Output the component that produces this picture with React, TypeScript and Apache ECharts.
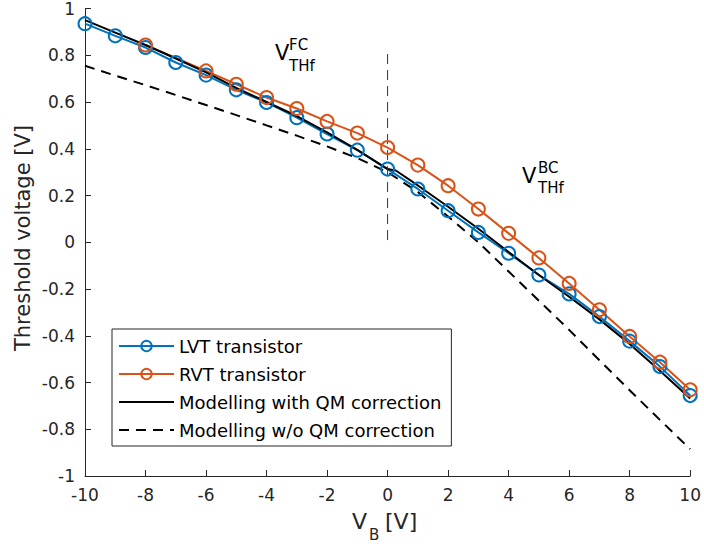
import React, { useEffect, useRef } from "react";
import * as echarts from "echarts";

const xs = [-10, -9, -8, -7, -6, -5, -4, -3, -2, -1, 0, 1, 2, 3, 4, 5, 6, 7, 8, 9, 10];
const lvt = [0.935, 0.883, 0.833, 0.769, 0.715, 0.652, 0.598, 0.533, 0.463, 0.394, 0.313, 0.228, 0.135, 0.042, -0.047, -0.14, -0.221, -0.318, -0.423, -0.532, -0.656];
const rvt = [null, null, 0.844, null, 0.733, 0.676, 0.619, 0.572, 0.517, 0.467, 0.405, 0.33, 0.242, 0.142, 0.038, -0.067, -0.176, -0.289, -0.403, -0.513, -0.631];
const qmX = [-10, -9, -8, -7, -6, -5, -4, -3, -2, -1, 0, 0.27, 1, 2, 3, 4, 5, 6, 7, 8, 9, 10];
const qmY = [0.95, 0.897, 0.844, 0.786, 0.727, 0.66, 0.6, 0.54, 0.47, 0.395, 0.313, 0.307, 0.243, 0.152, 0.058, -0.042, -0.14, -0.233, -0.33, -0.435, -0.55, -0.668];
const noQmY = [0.755, 0.713, 0.672, 0.63, 0.587, 0.544, 0.5, 0.456, 0.41, 0.36, 0.3, 0.215, 0.11, 0.0, -0.125, -0.25, -0.375, -0.505, -0.633, -0.76, -0.885];
const markerX = [0, 0];
const markerY = [0.805, -0.01];
const names = ["LVT transistor", "RVT transistor", "Modelling with QM correction", "Modelling w/o QM correction"];

const FONT = "'DejaVu Sans', sans-serif";
const AX = "#262626";
const BLUE = "#0072BD";
const ORANGE = "#D95319";

export default function App() {
  const ref = useRef<HTMLDivElement>(null);
  useEffect(() => {
    if (!ref.current) return;
    const chart = echarts.init(ref.current, null, { renderer: "svg" });
    const pair = (x: number[], y: (number | null)[]) => x.map((v, i) => [v, y[i]]);
    chart.setOption({
      animation: false,
      backgroundColor: "#fff",
      grid: { left: 85, right: 12, top: 8, bottom: 78 },
      xAxis: {
        type: "value", min: -10, max: 10, interval: 2,
        axisLine: { onZero: false, lineStyle: { color: AX, width: 1 } },
        axisTick: { inside: true, length: 6, lineStyle: { color: AX } },
        axisLabel: { color: AX, fontSize: 17, fontFamily: FONT, margin: 10 },
        splitLine: { show: false },
      },
      yAxis: {
        type: "value", min: -1, max: 1, interval: 0.2,
        axisLine: { show: true, onZero: false, lineStyle: { color: AX, width: 1 } },
        axisTick: { show: true, inside: true, length: 6, lineStyle: { color: AX } },
        axisLabel: { color: AX, fontSize: 17, fontFamily: FONT, margin: 10,
          formatter: (v: number) => String(Math.round(v * 10) / 10) },
        splitLine: { show: false },
      },
      legend: {
        data: [
          { name: names[0] },
          { name: names[1] },
          { name: names[2], itemStyle: { opacity: 0 } },
          { name: names[3], itemStyle: { opacity: 0 } },
        ],
        orient: "vertical", left: 112, top: 329,
        padding: [8, 10, 7, 6], itemGap: 10, itemWidth: 55, itemHeight: 13,
        borderColor: AX, borderWidth: 1, backgroundColor: "#fff", borderRadius: 0,
        textStyle: { fontSize: 18, fontFamily: FONT, color: "#000", lineHeight: 18 },
      },
      series: [
        { name: names[0], type: "line", data: pair(xs, lvt), symbol: "circle", symbolSize: 13,
          color: BLUE, lineStyle: { width: 2, color: BLUE },
          itemStyle: { color: "rgba(255,255,255,0)", borderColor: BLUE, borderWidth: 2 } },
        { name: names[1], type: "line", data: pair(xs, rvt), connectNulls: true, symbol: "circle", symbolSize: 13,
          color: ORANGE, lineStyle: { width: 2, color: ORANGE },
          itemStyle: { color: "rgba(255,255,255,0)", borderColor: ORANGE, borderWidth: 2 } },
        { name: names[2], type: "line", data: pair(qmX, qmY), symbol: "none", color: "#000",
          lineStyle: { width: 2, color: "#000" } },
        { name: names[3], type: "line", data: pair(xs, noQmY), symbol: "none", color: "#000",
          lineStyle: { width: 2, color: "#000", type: [10, 7] } },
        { name: "divider", type: "line", data: pair(markerX, markerY), symbol: "none",
          lineStyle: { width: 1, color: "#333", type: [10, 6] } },
      ],
      graphic: [
        { type: "text", x: 275, y: 53, style: { text: "V", fontSize: 21, fontFamily: FONT, fill: "#000", verticalAlign: "middle" } },
        { type: "text", x: 289, y: 45, style: { text: "FC", fontSize: 15, fontFamily: FONT, fill: "#000", verticalAlign: "middle" } },
        { type: "text", x: 289, y: 65.5, style: { text: "THf", fontSize: 15, fontFamily: FONT, fill: "#000", verticalAlign: "middle" } },
        { type: "text", x: 522, y: 176, style: { text: "V", fontSize: 21, fontFamily: FONT, fill: "#000", verticalAlign: "middle" } },
        { type: "text", x: 538, y: 168, style: { text: "BC", fontSize: 15, fontFamily: FONT, fill: "#000", verticalAlign: "middle" } },
        { type: "text", x: 538, y: 187.5, style: { text: "THf", fontSize: 15, fontFamily: FONT, fill: "#000", verticalAlign: "middle" } },
        { type: "text", x: 23, y: 238, rotation: Math.PI / 2,
          style: { text: "Threshold voltage [V]", fontSize: 21, fontFamily: FONT, fill: AX, align: "center", verticalAlign: "middle" } },
        { type: "text", x: 352, y: 521, style: { text: "V", fontSize: 22, fontFamily: FONT, fill: AX, verticalAlign: "middle" } },
        { type: "text", x: 369, y: 535, style: { text: "B", fontSize: 15, fontFamily: FONT, fill: AX, verticalAlign: "middle" } },
        { type: "text", x: 385, y: 521, style: { text: "[V]", fontSize: 22, fontFamily: FONT, fill: AX, verticalAlign: "middle" } },
      ],
    });
    return () => chart.dispose();
  }, []);
  return <div ref={ref} style={{ width: 704, height: 554, position: "absolute", left: 0, top: 0 }} />;
}
